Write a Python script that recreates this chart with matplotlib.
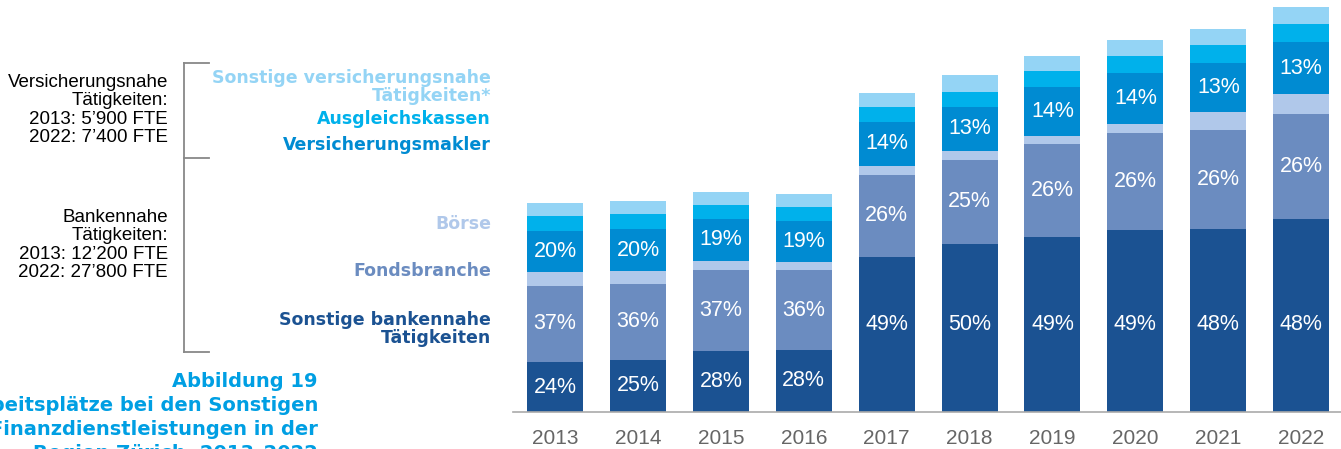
import numpy as np
import matplotlib.pyplot as plt

plt.rcParams['font.family'] = ['Liberation Sans', 'DejaVu Sans']

# FTE per segment, bottom to top
years = ['2013', '2014', '2015', '2016', '2017', '2018', '2019', '2020', '2021', '2022']
sonst_bank = [4350, 4550, 5330, 5420, 13550, 14680, 15300, 15900, 16000, 16870]
fonds = [6700, 6640, 7080, 6950, 7170, 7340, 8130, 8480, 8650, 9180]
boerse = [1150, 1140, 790, 700, 790, 790, 700, 790, 1570, 1750]
makler = [3620, 3620, 3670, 3650, 3850, 3850, 4250, 4460, 4280, 4500]
ausgleich = [1310, 1310, 1220, 1220, 1310, 1310, 1400, 1490, 1570, 1570]
sonst_vers = [1140, 1140, 1140, 1140, 1220, 1490, 1310, 1400, 1400, 1490]

series = [sonst_bank, fonds, boerse, makler, ausgleich, sonst_vers]
colors = ['#1b5292', '#6b8cc0', '#b0c8ea', '#008bd2', '#00b1eb', '#94d4f5']
labelled = [0, 1, 3]  # segments with percentage labels

W, H = 1341, 449
fig = plt.figure(figsize=(W / 100, H / 100), dpi=100)
ax = fig.add_axes([513 / W, 37 / H, 1 - 513 / W, 412 / H])

x = np.arange(len(years))
totals = np.sum(np.array(series), axis=0)
bottom = np.zeros(len(years))
for i, (vals, c) in enumerate(zip(series, colors)):
	vals = np.array(vals, dtype=float)
	ax.bar(x, vals, 0.675, bottom=bottom, color=c, linewidth=0)
	if i in labelled:
		for xi, b, v, t in zip(x, bottom, vals, totals):
			ymid = b + v / 2
			# the big bottom segments from 2017 on share one label height
			if i == 0 and v > 10000:
				ymid = 7650
			ax.text(xi, ymid, '{:.0f}%'.format(100 * v / t), ha='center', va='center',
					color='white', fontsize=15.5)
	bottom += vals

ax.set_xlim(-0.507, 9.48)
ax.set_ylim(0, 36000)
ax.set_xticks(x)
ax.set_xticklabels(years, fontsize=15, color='#666666')
ax.tick_params(axis='x', length=0, pad=12)
ax.set_yticks([])
for s in ['left', 'right', 'top']:
	ax.spines[s].set_visible(False)
ax.spines['bottom'].set_color('#aaaaaa')
ax.spines['bottom'].set_linewidth(1.2)


def px(xp, yp):
	return xp / W, 1 - yp / H


# left group descriptions
fig.text(*px(168, 110), 'Versicherungsnahe\nTätigkeiten:\n2013: 5’900 FTE\n2022: 7’400 FTE',
		 ha='right', va='center', fontsize=13.5, linespacing=1.1, color='black')
fig.text(*px(168, 245), 'Bankennahe\nTätigkeiten:\n2013: 12’200 FTE\n2022: 27’800 FTE',
		 ha='right', va='center', fontsize=13.5, linespacing=1.1, color='black')

# bracket
bx, bx2 = 184 / W, 209 / W
for y0 in [63, 158, 352]:
	fig.add_artist(plt.Line2D([bx, bx2], [1 - y0 / H] * 2, color='#888888', lw=1.3))
fig.add_artist(plt.Line2D([bx, bx], [1 - 63 / H, 1 - 352 / H], color='#888888', lw=1.3))

# series names
legend_items = [
	('Sonstige versicherungsnahe\nTätigkeiten*', 87, colors[5]),
	('Ausgleichskassen', 119, colors[4]),
	('Versicherungsmakler', 145, colors[3]),
	('Börse', 224, colors[2]),
	('Fondsbranche', 271, colors[1]),
	('Sonstige bankennahe\nTätigkeiten', 329, colors[0]),
]
for txt, yp, c in legend_items:
	fig.text(*px(491, yp), txt, ha='right', va='center', fontsize=12.5, fontweight='bold',
			 color=c, linespacing=1.05, family='DejaVu Sans')

# figure title (runs off the lower and left edge, as in the source)
fig.text(*px(318, 372), 'Abbildung 19\nArbeitsplätze bei den Sonstigen\nFinanzdienstleistungen in der\nRegion Zürich, 2013–2022',
		 ha='right', va='top', fontsize=14, fontweight='bold', color='#009fe3', linespacing=1.33,
		 family='DejaVu Sans')

fig.savefig('out.png', dpi=100)
